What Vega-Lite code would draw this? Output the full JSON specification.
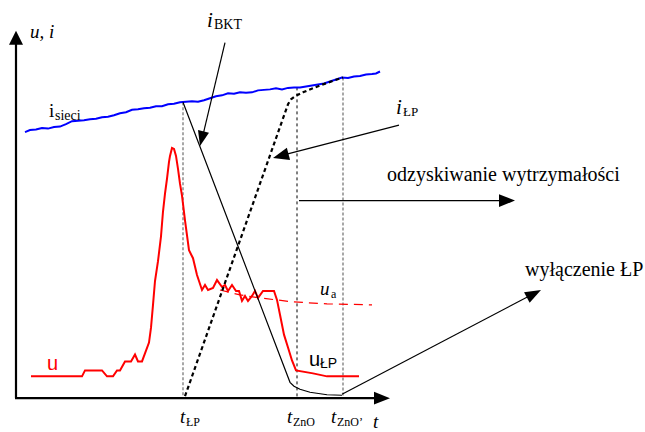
{
  "$schema": "https://vega.github.io/schema/vega-lite/v6.json",
  "width": 645,
  "height": 432,
  "padding": 0,
  "autosize": {"type": "fit", "contains": "padding"},
  "config": {"view": {"stroke": null}},
  "datasets": {
    "sieci": [
      {"x":25,"y":133},{"x":30,"y":131},{"x":36,"y":130.5},{"x":42,"y":129},{"x":48,"y":129.5},{"x":54,"y":128},{"x":60,"y":127.5},{"x":66,"y":125},{"x":72,"y":122},{"x":78,"y":121.5},{"x":84,"y":121},{"x":90,"y":120},{"x":96,"y":119.5},{"x":102,"y":118},{"x":108,"y":117.5},{"x":114,"y":116},{"x":120,"y":114},{"x":126,"y":113},{"x":132,"y":110.5},{"x":138,"y":110},{"x":144,"y":109},{"x":150,"y":108.5},{"x":156,"y":107},{"x":162,"y":107},{"x":168,"y":105},{"x":174,"y":104.5},{"x":180,"y":103},{"x":186,"y":102.5},{"x":192,"y":102},{"x":198,"y":102.5},{"x":204,"y":101},{"x":210,"y":99},{"x":216,"y":97},{"x":222,"y":96},{"x":228,"y":94},{"x":234,"y":94.5},{"x":240,"y":93},{"x":246,"y":93.5},{"x":252,"y":93},{"x":258,"y":91},{"x":264,"y":90.5},{"x":270,"y":90},{"x":276,"y":89},{"x":282,"y":90},{"x":288,"y":88.5},{"x":294,"y":88},{"x":300,"y":88},{"x":306,"y":87},{"x":312,"y":86},{"x":318,"y":85},{"x":324,"y":84},{"x":330,"y":82},{"x":336,"y":80},{"x":342,"y":78},{"x":348,"y":78.5},{"x":354,"y":77},{"x":360,"y":76.5},{"x":366,"y":75},{"x":372,"y":74.5},{"x":376,"y":74},{"x":380,"y":72}
    ],
    "u": [
      {"x":31,"y":379},{"x":82,"y":379},{"x":85,"y":373},{"x":102,"y":373},{"x":107,"y":379},{"x":113,"y":379},{"x":117,"y":373},{"x":120,"y":373},{"x":125,"y":364},{"x":131,"y":364},{"x":135,"y":357},{"x":138,"y":364},{"x":142,"y":364},{"x":149,"y":345},{"x":151,"y":330},{"x":153,"y":307},{"x":155,"y":283},{"x":158,"y":263},{"x":161,"y":238},{"x":163,"y":213},{"x":165,"y":195},{"x":167,"y":180},{"x":169,"y":163},{"x":170,"y":157},{"x":172,"y":149},{"x":174,"y":150},{"x":176,"y":157},{"x":178,"y":170},{"x":180,"y":185},{"x":182,"y":197},{"x":185,"y":222},{"x":189,"y":252},{"x":191,"y":256},{"x":193,"y":260},{"x":197,"y":277},{"x":202,"y":292},{"x":205,"y":287},{"x":208,"y":292},{"x":213,"y":290},{"x":217,"y":282},{"x":222,"y":289},{"x":225,"y":287},{"x":228,"y":293},{"x":232,"y":287},{"x":236,"y":293},{"x":239,"y":293},{"x":242,"y":303},{"x":245,"y":298},{"x":248,"y":303},{"x":252,"y":298},{"x":255,"y":293},{"x":258,"y":300},{"x":263,"y":293},{"x":268,"y":293},{"x":274,"y":293},{"x":277,"y":302},{"x":280,"y":317},{"x":284,"y":337},{"x":288,"y":350},{"x":292,"y":363},{"x":296,"y":373},{"x":313,"y":376},{"x":327,"y":379},{"x":359,"y":379}
    ],
    "ua": [
      {"x":220,"y":292},{"x":240,"y":297},{"x":260,"y":300},{"x":293,"y":304},{"x":327,"y":306},{"x":372,"y":307}
    ],
    "bkt": [
      {"x":183,"y":103},{"x":290,"y":385},{"x":294,"y":389},{"x":300,"y":392},{"x":310,"y":395},{"x":327,"y":397.5},{"x":342,"y":398}
    ],
    "ilp": [
      {"x":185,"y":399},{"x":288,"y":105},{"x":291,"y":100},{"x":295,"y":97},{"x":303,"y":93},{"x":320,"y":86},{"x":343,"y":78}
    ],
    "segs": [
      {"x":16,"y":401,"x2":16,"y2":40,"k":"axis"},
      {"x":15,"y":401,"x2":378,"y2":401,"k":"axis"},
      {"x":225,"y":43,"x2":202,"y2":140,"k":"arrow"},
      {"x":399,"y":126,"x2":280,"y2":157,"k":"arrow"},
      {"x":299,"y":202,"x2":505,"y2":202,"k":"arrow"},
      {"x":342,"y":397,"x2":535,"y2":295,"k":"arrow"},
      {"x":183,"y":103,"x2":183,"y2":400,"k":"gray"},
      {"x":343,"y":78,"x2":343,"y2":400,"k":"gray"},
      {"x":297,"y":88,"x2":297,"y2":400,"k":"black"}
    ],
    "heads": [
      {"x":16,"y":31,"k":"up"},
      {"x":390,"y":401,"k":"right"},
      {"x":515,"y":202,"k":"right"},
      {"x":200,"y":147,"k":"bkt"},
      {"x":273,"y":159,"k":"ilp"},
      {"x":541,"y":292,"k":"wyl"}
    ],
    "labels": [
      {"x":30,"y":38,"t":"u, i","k":"it"},
      {"x":49,"y":118,"t":"i","k":"rm"},
      {"x":55,"y":121,"t":"sieci","k":"sub14"},
      {"x":207,"y":27,"t":"i","k":"itbig"},
      {"x":214,"y":29,"t":"BKT","k":"sub14"},
      {"x":396,"y":115,"t":"i","k":"itbig"},
      {"x":403,"y":117,"t":"ŁP","k":"sub13"},
      {"x":387,"y":182,"t":"odzyskiwanie wytrzymałości","k":"rm20"},
      {"x":525,"y":278,"t":"wyłączenie ŁP","k":"rm20"},
      {"x":320,"y":297,"t":"u","k":"it"},
      {"x":331,"y":300,"t":"a","k":"sub"},
      {"x":309,"y":369,"t":"u","k":"sans"},
      {"x":320,"y":371,"t":"ŁP","k":"sanssub"},
      {"x":47,"y":373,"t":"u","k":"red"},
      {"x":180,"y":426,"t":"t","k":"it"},
      {"x":186,"y":429,"t":"ŁP","k":"sub"},
      {"x":287,"y":426,"t":"t","k":"it"},
      {"x":293,"y":429,"t":"ZnO","k":"sub"},
      {"x":331,"y":426,"t":"t","k":"it"},
      {"x":337,"y":429,"t":"ZnO’","k":"sub"},
      {"x":373,"y":431,"t":"t","k":"it"}
    ]
  },
  "encoding": {
    "x": {"field": "x", "type": "quantitative", "scale": {"domain": [0, 645], "nice": false, "zero": false}, "axis": null},
    "y": {"field": "y", "type": "quantitative", "scale": {"domain": [0, 432], "nice": false, "zero": false, "reverse": true}, "axis": null}
  },
  "layer": [
    {"data": {"name": "segs"}, "transform": [{"filter": "datum.k == 'gray'"}], "mark": {"type": "rule", "color": "#6e6e6e", "strokeWidth": 1.2, "strokeDash": [3, 2]}, "encoding": {"x2": {"field": "x2"}, "y2": {"field": "y2"}}},
    {"data": {"name": "segs"}, "transform": [{"filter": "datum.k == 'black'"}], "mark": {"type": "rule", "color": "#000000", "strokeWidth": 1, "strokeDash": [3, 3]}, "encoding": {"x2": {"field": "x2"}, "y2": {"field": "y2"}}},
    {"data": {"name": "sieci"}, "mark": {"type": "line", "color": "#0000ff", "strokeWidth": 2}, "encoding": {"order": {"value": null}}},
    {"data": {"name": "ua"}, "mark": {"type": "line", "color": "#ff0000", "strokeWidth": 1.2, "strokeDash": [9, 6]}, "encoding": {"order": {"value": null}}},
    {"data": {"name": "u"}, "mark": {"type": "line", "color": "#ff0000", "strokeWidth": 2}, "encoding": {"order": {"value": null}}},
    {"data": {"name": "bkt"}, "mark": {"type": "line", "color": "#000000", "strokeWidth": 1.2}, "encoding": {"order": {"value": null}}},
    {"data": {"name": "ilp"}, "mark": {"type": "line", "color": "#000000", "strokeWidth": 2.2, "strokeDash": [4, 3]}, "encoding": {"order": {"value": null}}},
    {"data": {"name": "segs"}, "transform": [{"filter": "datum.k == 'axis'"}], "mark": {"type": "rule", "color": "#000000", "strokeWidth": 2.2}, "encoding": {"x2": {"field": "x2"}, "y2": {"field": "y2"}}},
    {"data": {"name": "segs"}, "transform": [{"filter": "datum.k == 'arrow'"}], "mark": {"type": "rule", "color": "#000000", "strokeWidth": 1.2}, "encoding": {"x2": {"field": "x2"}, "y2": {"field": "y2"}}},
    {"data": {"name": "heads"}, "transform": [{"filter": "datum.k == 'up'"}], "mark": {"type": "point", "shape": "M0,0L-2,-1L-2,1Z", "size": 196, "angle": 270, "filled": true, "color": "#000000", "opacity": 1, "strokeWidth": 0}},
    {"data": {"name": "heads"}, "transform": [{"filter": "datum.k == 'right'"}], "mark": {"type": "point", "shape": "M0,0L-2,-0.8L-2,0.8Z", "size": 256, "angle": 0, "filled": true, "color": "#000000", "opacity": 1, "strokeWidth": 0}},
    {"data": {"name": "heads"}, "transform": [{"filter": "datum.k == 'bkt'"}], "mark": {"type": "point", "shape": "M0,0L-2,-0.75L-2,0.75Z", "size": 225, "angle": 103.5, "filled": true, "color": "#000000", "opacity": 1, "strokeWidth": 0}},
    {"data": {"name": "heads"}, "transform": [{"filter": "datum.k == 'ilp'"}], "mark": {"type": "point", "shape": "M0,0L-2,-0.8L-2,0.8Z", "size": 256, "angle": 165.3, "filled": true, "color": "#000000", "opacity": 1, "strokeWidth": 0}},
    {"data": {"name": "heads"}, "transform": [{"filter": "datum.k == 'wyl'"}], "mark": {"type": "point", "shape": "M0,0L-2,-0.75L-2,0.75Z", "size": 256, "angle": -27.8, "filled": true, "color": "#000000", "opacity": 1, "strokeWidth": 0}},
    {"data": {"name": "labels"}, "transform": [{"filter": "datum.k == 'it'"}], "mark": {"type": "text", "font": "Liberation Serif", "fontStyle": "italic", "fontSize": 19, "align": "left", "baseline": "alphabetic", "color": "#000000"}, "encoding": {"text": {"field": "t"}}},
    {"data": {"name": "labels"}, "transform": [{"filter": "datum.k == 'itbig'"}], "mark": {"type": "text", "font": "Liberation Serif", "fontStyle": "italic", "fontSize": 21, "align": "left", "baseline": "alphabetic", "color": "#000000"}, "encoding": {"text": {"field": "t"}}},
    {"data": {"name": "labels"}, "transform": [{"filter": "datum.k == 'rm'"}], "mark": {"type": "text", "font": "Liberation Serif", "fontSize": 19, "align": "left", "baseline": "alphabetic", "color": "#000000"}, "encoding": {"text": {"field": "t"}}},
    {"data": {"name": "labels"}, "transform": [{"filter": "datum.k == 'rm20'"}], "mark": {"type": "text", "font": "Liberation Serif", "fontSize": 20, "align": "left", "baseline": "alphabetic", "color": "#000000"}, "encoding": {"text": {"field": "t"}}},
    {"data": {"name": "labels"}, "transform": [{"filter": "datum.k == 'sub'"}], "mark": {"type": "text", "font": "Liberation Serif", "fontSize": 12, "align": "left", "baseline": "alphabetic", "color": "#000000"}, "encoding": {"text": {"field": "t"}}},
    {"data": {"name": "labels"}, "transform": [{"filter": "datum.k == 'sub13'"}], "mark": {"type": "text", "font": "Liberation Serif", "fontSize": 13, "align": "left", "baseline": "alphabetic", "color": "#000000"}, "encoding": {"text": {"field": "t"}}},
    {"data": {"name": "labels"}, "transform": [{"filter": "datum.k == 'sub14'"}], "mark": {"type": "text", "font": "Liberation Serif", "fontSize": 14, "align": "left", "baseline": "alphabetic", "color": "#000000"}, "encoding": {"text": {"field": "t"}}},
    {"data": {"name": "labels"}, "transform": [{"filter": "datum.k == 'sans'"}], "mark": {"type": "text", "font": "Liberation Sans", "fontSize": 20, "align": "left", "baseline": "alphabetic", "color": "#000000"}, "encoding": {"text": {"field": "t"}}},
    {"data": {"name": "labels"}, "transform": [{"filter": "datum.k == 'sanssub'"}], "mark": {"type": "text", "font": "Liberation Sans", "fontSize": 14, "align": "left", "baseline": "alphabetic", "color": "#000000"}, "encoding": {"text": {"field": "t"}}},
    {"data": {"name": "labels"}, "transform": [{"filter": "datum.k == 'red'"}], "mark": {"type": "text", "font": "Liberation Sans", "fontSize": 20, "align": "left", "baseline": "alphabetic", "color": "#ff0000"}, "encoding": {"text": {"field": "t"}}}
  ]
}
